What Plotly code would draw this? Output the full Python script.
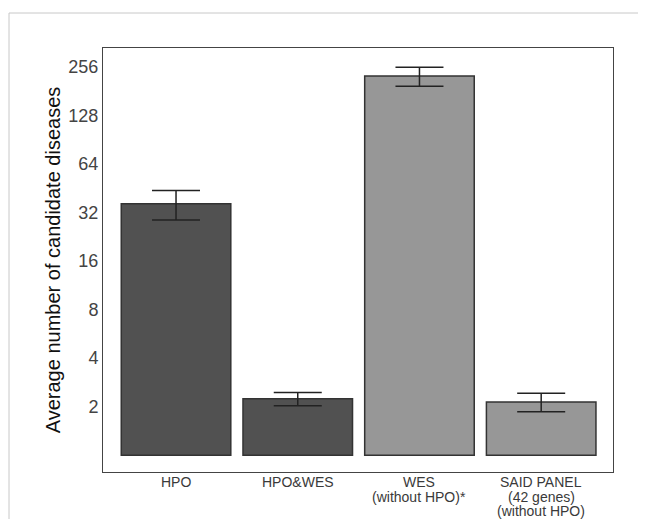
import plotly.graph_objects as go
import math

# ---- data ----
categories = ["HPO", "HPO&WES", "WES", "SAID PANEL"]
tick_labels = ["HPO", "HPO&WES", "WES<br>(without HPO)*", "SAID PANEL<br>(42 genes)<br>(without HPO)"]
means = [36.2, 2.24, 224, 2.14]
errors = [7.5, 0.21, 30, 0.28]
bar_colors = ["#515151", "#515151", "#979797", "#979797"]
y_tick_values = [2, 4, 8, 16, 32, 64, 128, 256]
y_title = "Average number of candidate diseases"
BAR_BASE = 1

W, H = 638, 511
L, R, T, B = 95, 33, 40, 47
PW, PH = W - L - R, H - T - B

fig = go.Figure()
fig.add_trace(go.Bar(
    x=categories,
    y=[v - BAR_BASE for v in means],
    base=BAR_BASE,
    width=0.9,
    marker=dict(color=bar_colors, line=dict(color="#333333", width=1.5)),
    error_y=dict(type="data", array=errors, visible=True,
                 color="#222222", thickness=1.5, width=24),
    showlegend=False,
))

font = "Liberation Sans, Arial, sans-serif"

# x tick labels as per-line annotations (tight line spacing)
line_gap = 14.5
for cat, lab in zip(categories, tick_labels):
    for i, line in enumerate(lab.split("<br>")):
        fig.add_annotation(
            x=cat, xref="x", y=0, yref="paper",
            text=line, showarrow=False,
            xanchor="center", yanchor="middle",
            yshift=-(10 + i * line_gap),
            font=dict(family=font, size=14, color="#3a3a3a"),
        )

# outer light frame
fig.add_shape(type="rect", xref="paper", yref="paper",
              x0=(1 - L) / PW, x1=1.4,
              y0=-0.4, y1=(H - B - 5) / PH,
              line=dict(color="#c8c8c8", width=1), fillcolor="rgba(0,0,0,0)",
              layer="below")

fig.update_layout(
    width=W, height=H,
    margin=dict(l=L, r=R, t=T, b=B, autoexpand=False),
    paper_bgcolor="white", plot_bgcolor="white",
    bargap=0.1,
    font=dict(family=font),
    xaxis=dict(
        type="category",
        range=[-0.6, 3.59],
        showticklabels=False,
        showgrid=False, zeroline=False,
        showline=True, mirror=True, linecolor="#444444", linewidth=1,
        ticks="",
    ),
    yaxis=dict(
        type="log",
        range=[math.log10(2 ** -0.344), math.log10(2 ** 8.385)],
        tickvals=y_tick_values,
        ticktext=[str(v) for v in y_tick_values],
        tickfont=dict(family=font, size=18, color="#444444"),
        showgrid=False, zeroline=False,
        showline=True, mirror=True, linecolor="#444444", linewidth=1,
        ticks="",
        ticklabelstandoff=0,
        title=dict(text=y_title, font=dict(family=font, size=20, color="#111111"),
                   standoff=2),
    ),
)

fig.write_html("out.html")
